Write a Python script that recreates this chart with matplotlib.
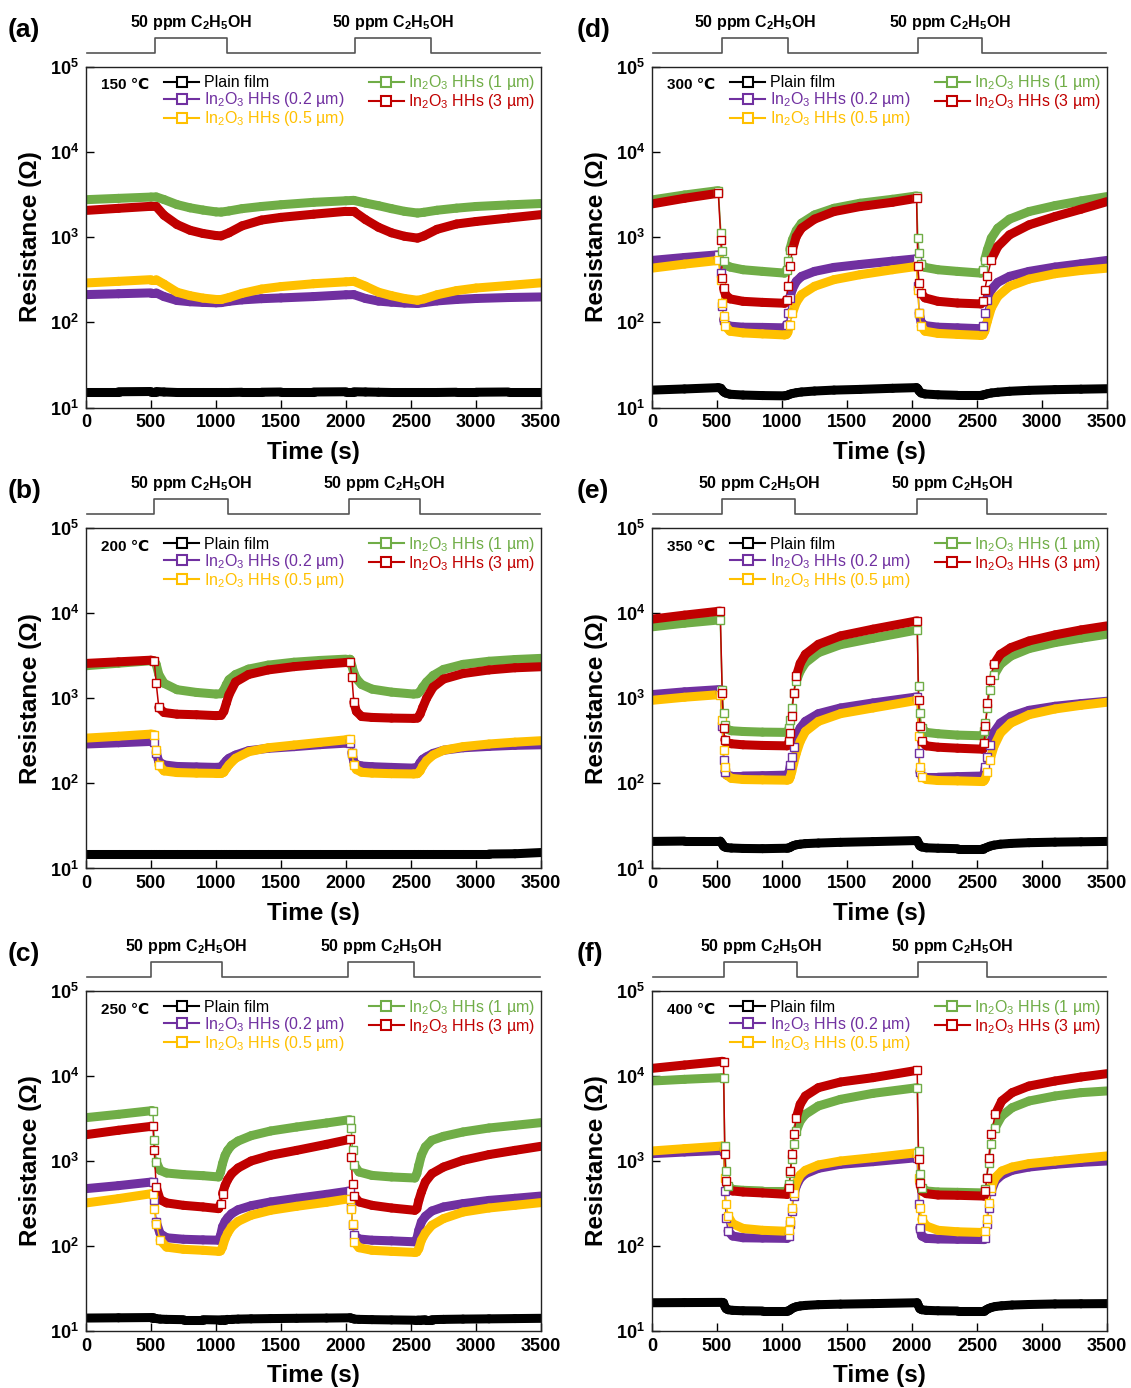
import numpy as np
import matplotlib
matplotlib.use('Agg')
import matplotlib.pyplot as plt
from matplotlib.collections import LineCollection
from matplotlib.lines import Line2D

plt.rcParams['font.family'] = ['Liberation Sans', 'DejaVu Sans']
plt.rcParams['mathtext.fontset'] = 'custom'
plt.rcParams['mathtext.rm'] = 'Liberation Sans'
plt.rcParams['mathtext.bf'] = 'Liberation Sans:bold'
plt.rcParams['mathtext.it'] = 'Liberation Sans:italic'
plt.rcParams['mathtext.default'] = 'regular'

# ---------------- data ----------------
series_labels = ['Plain film', 'In$_2$O$_3$ HHs (0.2 µm)', 'In$_2$O$_3$ HHs (0.5 µm)',
                 'In$_2$O$_3$ HHs (1 µm)', 'In$_2$O$_3$ HHs (3 µm)']
series_colors = ['#000000', '#7030A0', '#FFC000', '#70AD47', '#C00000']
panel_letters = ['(a)', '(b)', '(c)', '(d)', '(e)', '(f)']
temperatures = ['150', '200', '250', '300', '350', '400']
gas_label = '50 ppm C$_2$H$_5$OH'
x_ticks = [0, 500, 1000, 1500, 2000, 2500, 3000, 3500]
y_ticks = [1e1, 1e2, 1e3, 1e4, 1e5]

# (a) 150 C
t_a = [0, 250, 500, 540, 600, 700, 800, 900, 1000, 1040, 1100, 1200, 1350, 1500, 1750, 2000,
       2060, 2150, 2250, 2350, 2450, 2550, 2600, 2700, 2850, 3000, 3250, 3500]
a_plain = [15.3, 15.3, 15.4, 15.4, 15.2, 15.0, 15.0, 15.0, 15.0, 15.0, 15.0, 15.1, 15.1, 15.2,
           15.2, 15.3, 15.3, 15.2, 15.1, 15.0, 15.0, 15.0, 15.0, 15.0, 15.1, 15.1, 15.2, 15.2]
a_02 = [211, 216, 221, 221, 200, 180, 174, 171, 169, 170, 176, 183, 189, 193, 200, 210,
        211, 190, 177, 172, 168, 166, 170, 178, 185, 190, 195, 198]
a_05 = [289, 302, 316, 316, 280, 225, 205, 192, 185, 185, 195, 218, 245, 262, 283, 298,
        302, 265, 225, 205, 190, 181, 188, 210, 235, 252, 270, 290]
a_1 = [2740, 2840, 2940, 2950, 2750, 2400, 2200, 2070, 1970, 1960, 2020, 2150, 2280, 2390,
       2550, 2660, 2690, 2500, 2330, 2150, 2000, 1910, 1950, 2060, 2180, 2280, 2380, 2470]
a_3 = [2050, 2170, 2290, 2280, 1800, 1400, 1200, 1100, 1040, 1030, 1120, 1350, 1580, 1700,
       1850, 2000, 2000, 1600, 1300, 1120, 1020, 970, 1030, 1230, 1420, 1520, 1670, 1830]
pulse_a = [529, 1088, 2072, 2654]

# (b) 200 C
t_b = [0, 250, 500, 525, 540, 560, 600, 700, 850, 1000, 1040, 1060, 1080, 1100, 1150, 1250,
       1400, 1600, 1800, 2000, 2030, 2045, 2060, 2080, 2120, 2200, 2350, 2520, 2550, 2570,
       2590, 2620, 2670, 2750, 2900, 3100, 3300, 3500]
b_plain = [14.8, 14.8, 14.8, 14.8, 14.8, 14.8, 14.8, 14.8, 14.8, 14.8, 14.8, 14.8, 14.8,
           14.8, 14.8, 14.8, 14.8, 14.8, 14.8, 14.8, 14.8, 14.8, 14.8, 14.8, 14.8, 14.8,
           14.8, 14.8, 14.8, 14.8, 14.8, 14.8, 14.8, 14.8, 14.8, 14.8, 14.9, 15.4]
b_02 = [290, 300, 311, 305, 230, 180, 165, 158, 156, 154, 156, 170, 185, 197, 215, 242, 258,
        270, 285, 297, 298, 230, 180, 166, 160, 157, 154, 151, 155, 175, 192, 205, 225, 245,
        262, 272, 280, 284]
b_05 = [340, 358, 379, 375, 250, 165, 140, 134, 132, 131, 131, 135, 150, 165, 197, 235, 262,
        282, 303, 325, 330, 230, 165, 145, 135, 132, 130, 129, 130, 140, 160, 185, 215, 245,
        270, 290, 305, 317]
b_1 = [2410, 2580, 2760, 2760, 2500, 1900, 1500, 1260, 1170, 1120, 1130, 1250, 1450, 1650,
       1900, 2200, 2450, 2650, 2780, 2880, 2880, 2400, 2000, 1700, 1450, 1280, 1180, 1120,
       1130, 1200, 1350, 1550, 1850, 2180, 2500, 2720, 2850, 2940]
b_3 = [2565, 2680, 2800, 2750, 1500, 780, 680, 650, 640, 625, 630, 700, 880, 1100, 1550,
       1900, 2150, 2350, 2500, 2630, 2640, 1800, 900, 700, 610, 595, 585, 580, 585, 650, 780,
       1000, 1350, 1680, 1950, 2150, 2280, 2345]
pulse_b = [523, 1090, 2025, 2569]

# (c) 250 C
t_c = [0, 250, 505, 515, 525, 540, 570, 620, 750, 900, 1020, 1035, 1050, 1070, 1090, 1120,
       1170, 1270, 1420, 1620, 1850, 2030, 2040, 2050, 2065, 2100, 2200, 2350, 2530, 2545,
       2560, 2580, 2610, 2660, 2750, 2900, 3100, 3300, 3500]
c_plain = [14.2, 14.3, 14.4, 14.4, 14.2, 14.0, 13.8, 13.7, 13.6, 13.6, 13.5, 13.5, 13.6, 13.6,
           13.7, 13.7, 13.8, 13.9, 14.0, 14.1, 14.2, 14.3, 14.2, 14.0, 13.8, 13.7, 13.6, 13.5,
           13.4, 13.4, 13.5, 13.5, 13.6, 13.6, 13.7, 13.8, 13.9, 14.0, 14.1]
c_02 = [473, 513, 566, 566, 344, 192, 140, 125, 120, 118, 117, 133, 168, 195, 215, 240, 267,
        298, 330, 364, 405, 444, 288, 175, 133, 121, 117, 115, 112, 122, 153, 192, 223, 258,
        288, 315, 344, 364, 387]
c_05 = [321, 361, 413, 413, 275, 183, 117, 97, 91.4, 89, 86.5, 87.4, 97, 122, 142, 168, 195,
        230, 263, 293, 327, 361, 275, 183, 111, 95.5, 89, 86.5, 84, 85, 93, 117, 142, 175,
        210, 251, 280, 301, 324]
c_1 = [3236, 3540, 3910, 3900, 1750, 982, 776, 722, 692, 672, 649, 743, 931, 1167, 1334,
       1528, 1718, 1985, 2255, 2510, 2800, 3065, 2465, 1334, 889, 743, 677, 649, 631, 709,
       889, 1167, 1463, 1750, 1950, 2195, 2445, 2630, 2827]
c_3 = [2040, 2300, 2560, 2560, 1334, 494, 351, 321, 301, 288, 275, 315, 413, 517, 603, 709,
       828, 1000, 1167, 1334, 1570, 1800, 1114, 541, 384, 330, 301, 280, 263, 275, 344, 432,
       566, 709, 849, 1019, 1189, 1334, 1489]
pulse_c = [498, 1049, 2015, 2520]

# (d) 300 C
t_d = [0, 250, 510, 530, 540, 550, 565, 600, 700, 850, 1020, 1035, 1045, 1060, 1080, 1110,
       1150, 1250, 1400, 1600, 1850, 2035, 2045, 2055, 2070, 2100, 2200, 2350, 2530, 2545,
       2560, 2580, 2610, 2660, 2750, 2900, 3100, 3300, 3500]
d_plain = [16.0, 16.5, 17.1, 16.8, 16.0, 15.3, 14.8, 14.3, 14.0, 13.8, 13.7, 13.8, 14.0, 14.3,
           14.6, 14.9, 15.2, 15.6, 16.0, 16.3, 16.8, 17.1, 16.6, 15.6, 14.8, 14.4, 14.1, 13.9,
           13.9, 14.0, 14.2, 14.5, 14.8, 15.1, 15.5, 15.9, 16.2, 16.4, 16.6]
d_02 = [531, 575, 618, 377, 154, 107, 94, 90, 87.5, 87, 86, 94, 128, 193, 245, 302, 345, 395,
        440, 476, 521, 555, 264, 128, 100, 91.4, 87.5, 86, 84, 90, 128, 184, 241, 294, 345,
        395, 444, 485, 531]
d_05 = [431, 481, 531, 316, 168, 117, 90, 78.5, 75, 73, 71, 72, 76, 94, 128, 171, 211, 264,
        316, 361, 413, 452, 241, 128, 90, 78.5, 74, 72, 70, 71, 78.5, 103, 147, 201, 264, 321,
        371, 405, 431]
d_1 = [2720, 3110, 3500, 1110, 676, 517, 472, 444, 413, 395, 377, 413, 517, 708, 927, 1191,
       1452, 1815, 2172, 2488, 2770, 3030, 969, 647, 485, 440, 413, 395, 377, 413, 541, 708,
       969, 1268, 1620, 1988, 2334, 2650, 2980]
d_3 = [2445, 2845, 3260, 927, 330, 253, 211, 188, 176, 171, 167, 184, 264, 452, 708, 1014,
       1268, 1620, 1988, 2275, 2555, 2845, 452, 289, 220, 193, 176, 168, 164, 176, 241, 345,
       541, 774, 1060, 1387, 1738, 2118, 2600]
pulse_d = [538, 1043, 2044, 2542]

# (e) 350 C
t_e = [0, 250, 525, 540, 550, 560, 575, 610, 700, 850, 1040, 1055, 1065, 1075, 1090, 1110,
       1140, 1180, 1280, 1450, 1700, 2040, 2050, 2060, 2075, 2110, 2200, 2350, 2545, 2555,
       2565, 2580, 2600, 2630, 2680, 2760, 2900, 3100, 3300, 3500]
e_plain = [20.8, 21.0, 21.0, 19.5, 18.3, 17.9, 17.6, 17.4, 17.2, 17.1, 17.3, 17.5, 17.8, 18.2,
           18.6, 19.0, 19.3, 19.6, 19.9, 20.3, 20.7, 21.3, 19.8, 18.5, 17.9, 17.5, 17.3, 17.1,
           17.1, 17.2, 17.4, 17.8, 18.3, 18.8, 19.3, 19.7, 20.1, 20.4, 20.6, 20.8]
e_02 = [1105, 1189, 1265, 467, 189, 137, 125, 122, 122, 123, 125, 137, 165, 206, 271, 356,
        447, 535, 659, 769, 881, 1037, 226, 137, 120, 118, 118, 120, 122, 131, 157, 206, 284,
        397, 511, 613, 721, 805, 865, 922]
e_05 = [946, 1028, 1105, 560, 248, 157, 125, 114.5, 111, 110, 109, 111, 120, 137, 172, 226,
        311, 407, 535, 659, 769, 946, 356, 157, 120, 111, 108, 107, 105, 107.5, 114.5, 137,
        189, 271, 390, 511, 641, 748, 826, 898]
e_1 = [6900, 7620, 8340, 1265, 671, 489, 434, 415, 407, 400, 397, 447, 560, 769, 1156, 1590,
       2085, 2610, 3430, 4260, 5070, 6350, 1387, 671, 447, 397, 383, 369, 362, 407, 511, 769,
       1265, 1853, 2500, 3130, 3830, 4510, 5070, 5650]
e_3 = [8500, 9470, 10560, 1156, 447, 325, 302, 292, 284, 279, 276, 311, 390, 613, 1156, 1820,
       2567, 3280, 4300, 5400, 6480, 8120, 963, 467, 311, 276, 266, 259, 252, 297, 467, 881,
       1660, 2500, 3280, 3930, 4710, 5550, 6350, 7080]
pulse_e = [541, 1102, 2041, 2575]

# (f) 400 C
t_f = [0, 250, 540, 550, 560, 570, 585, 620, 700, 850, 1040, 1055, 1065, 1075, 1090, 1110,
       1140, 1180, 1280, 1450, 1700, 2040, 2050, 2060, 2075, 2110, 2200, 2350, 2555, 2565,
       2575, 2590, 2610, 2640, 2690, 2770, 2900, 3100, 3300, 3500]
f_plain = [21.5, 21.6, 21.7, 21.5, 19.5, 18.3, 17.8, 17.5, 17.3, 17.2, 17.2, 17.4, 17.8, 18.3,
           18.8, 19.3, 19.7, 20.0, 20.4, 20.7, 21.0, 21.5, 19.8, 18.3, 17.8, 17.5, 17.3, 17.2,
           17.2, 17.5, 17.9, 18.4, 18.9, 19.4, 19.8, 20.2, 20.5, 20.8, 20.9, 21.0]
f_02 = [1219, 1276, 1334, 1320, 444, 215, 150, 131, 125, 124, 123, 131, 180, 258, 387, 508,
        625, 709, 820, 914, 982, 1094, 309, 164, 131, 123, 121, 120, 119, 125, 180, 282, 444,
        582, 684, 777, 849, 914, 964, 1000]
f_05 = [1312, 1397, 1500, 1480, 637, 309, 225, 183, 161, 153, 149, 156, 197, 282, 424, 555,
        684, 777, 898, 1000, 1094, 1253, 637, 282, 206, 172, 153, 147, 144, 150, 206, 324, 486,
        637, 762, 849, 931, 1000, 1074, 1146]
f_1 = [8730, 9140, 9560, 9500, 1500, 762, 508, 464, 452, 444, 444, 531, 730, 1047, 1570, 2255,
       2955, 3540, 4440, 5310, 6250, 7290, 1312, 697, 486, 444, 432, 428, 421, 464, 637, 955,
       1570, 2465, 3380, 4240, 5080, 5820, 6370, 6670]
f_3 = [12300, 13460, 14880, 14800, 1197, 582, 464, 444, 432, 421, 405, 486, 762, 1197, 2060,
       3240, 4650, 5820, 7290, 8500, 9560, 11660, 1047, 555, 444, 413, 398, 395, 387, 444, 637,
       1094, 2060, 3540, 5080, 6370, 7620, 8730, 9730, 10650]
pulse_f = [556, 1118, 2049, 2575]

panels = [
    (t_a, [a_plain, a_02, a_05, a_1, a_3], pulse_a),
    (t_b, [b_plain, b_02, b_05, b_1, b_3], pulse_b),
    (t_c, [c_plain, c_02, c_05, c_1, c_3], pulse_c),
    (t_d, [d_plain, d_02, d_05, d_1, d_3], pulse_d),
    (t_e, [e_plain, e_02, e_05, e_1, e_3], pulse_e),
    (t_f, [f_plain, f_02, f_05, f_1, f_3], pulse_f),
]

# ---------------- layout ----------------
W, H = 1131, 1388
fig = plt.figure(figsize=(W / 100, H / 100), dpi=100)
col_left = [86, 652]
ax_w = 455
rows = [(66.5, 407.5), (528, 868.5), (991, 1331)]


def draw_series(ax, t, R, color):
    t = np.asarray(t, float)
    R = np.asarray(R, float)
    pts = ax.transData.transform(np.column_stack([t, R]))
    d = np.diff(pts, axis=0)
    steep = np.abs(d[:, 1]) > 2.2 * np.abs(d[:, 0]) + 5
    xy = np.column_stack([t, R])
    segs = np.stack([xy[:-1], xy[1:]], axis=1)
    thick = segs[~steep]
    thin = segs[steep]
    if len(thin):
        ax.add_collection(LineCollection(thin, linewidths=1.1, colors=color, zorder=2))
    if len(thick):
        ax.add_collection(LineCollection(thick, linewidths=6.5, colors=color,
                                         capstyle='round', joinstyle='round', zorder=2))
    idx = sorted(set(np.where(steep)[0]).union(set(np.where(steep)[0] + 1)))
    if idx:
        ax.plot(t[idx], R[idx], ls='none', marker='s', ms=5.5, mfc='white', mec=color,
                mew=1.0, zorder=3)


for k, (t, ys, pulse) in enumerate(panels):
    col = k // 3
    row = k % 3
    top, bot = rows[row]
    left = col_left[col]
    ax = fig.add_axes([left / W, 1 - bot / H, ax_w / W, (bot - top) / H])
    ax.set_yscale('log')
    ax.set_xlim(0, 3500)
    ax.set_ylim(1e1, 1e5)
    ax.set_xticks(x_ticks, [str(v) for v in x_ticks], fontweight='bold', fontsize=13)
    ax.set_yticks(y_ticks, [r'$\mathbf{10^{%d}}$' % round(np.log10(v)) for v in y_ticks],
                  fontsize=13)
    ax.yaxis.set_minor_locator(matplotlib.ticker.NullLocator())
    ax.tick_params(direction='in', length=6, width=1.0, pad=5)
    for s in ax.spines.values():
        s.set_linewidth(1.0)
        s.set_color('#222222')
    ax.set_xlabel('Time (s)', fontsize=17.5, fontweight='bold')
    ax.set_ylabel('Resistance (Ω)', fontsize=17.5, fontweight='bold')
    ax.xaxis.set_label_coords(0.5, -0.098)
    ax.yaxis.set_label_coords(-0.096, 0.5)

    for yv, c in zip(ys, series_colors):
        draw_series(ax, t, yv, c)

    handles = [Line2D([0], [0], color=c, lw=1.5, marker='s', ms=7, mfc='white', mec=c, mew=1.5)
               for c in series_colors]
    leg = ax.legend(handles, series_labels, ncol=2, loc='upper left',
                    bbox_to_anchor=(0.172, 0.98), frameon=False, fontsize=11.5,
                    handlelength=2.2, handletextpad=0.3, columnspacing=1.5,
                    labelspacing=0.0, borderaxespad=0, borderpad=0)
    for txt, c in zip(leg.get_texts(), series_colors):
        txt.set_color(c)
    ax.text(0.033, 0.945, temperatures[k] + ' ℃', transform=ax.transAxes, fontsize=11,
            fontweight='bold', va='center', ha='left')

    # gas pulse schematic
    axp = fig.add_axes([left / W, 1 - (top - 14) / H, ax_w / W, 15 / H])
    axp.set_xlim(0, 3500)
    axp.set_ylim(0, 1)
    axp.axis('off')
    px = [10, pulse[0], pulse[0], pulse[1], pulse[1], pulse[2], pulse[2], pulse[3], pulse[3], 3490]
    py = [0, 0, 1, 1, 0, 0, 1, 1, 0, 0]
    axp.plot(px, py, color='#555555', lw=1.2, clip_on=False)
    for j in (0, 2):
        axp.annotate(gas_label, xy=((pulse[j] + pulse[j + 1]) / 2, 1), xytext=(0, 11),
                     textcoords='offset points', ha='center', va='center', fontsize=11.5,
                     fontweight='bold', annotation_clip=False)

    fig.text((8 if col == 0 else 577) / W, 1 - (top - 37) / H, panel_letters[k],
             fontsize=19, fontweight='bold', ha='left', va='center')

fig.savefig('out.png', dpi=100)
